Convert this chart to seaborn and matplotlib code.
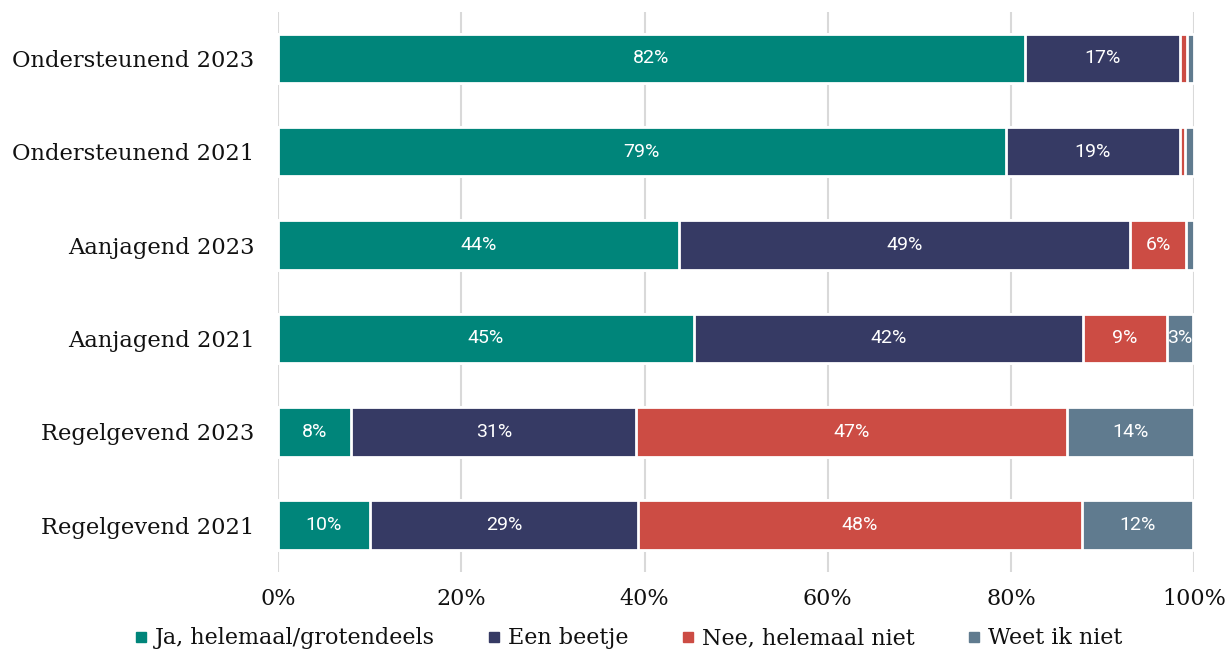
import matplotlib
matplotlib.use("Agg")
from matplotlib import pyplot as plt
from matplotlib.lines import Line2D
import seaborn as sns
import numpy as np
import pandas as pd

categories = ["Ondersteunend 2023", "Ondersteunend 2021", "Aanjagend 2023",
              "Aanjagend 2021", "Regelgevend 2023", "Regelgevend 2021"]
series = ["Ja, helemaal/grotendeels", "Een beetje", "Nee, helemaal niet", "Weet ik niet"]
ja = [81.5, 79.4, 43.8, 45.4, 8.0, 10.0]
beetje = [16.9, 19.0, 49.2, 42.4, 31.1, 29.3]
nee = [0.8, 0.6, 6.1, 9.2, 47.0, 48.4]
weet = [0.8, 1.0, 0.9, 2.9, 13.9, 12.2]
colors = ["#00857a", "#363a64", "#cc4c44", "#607b8f"]

sns.set_style("white")
plt.rcParams['font.family'] = ['DejaVu Serif']
plt.rcParams['text.color'] = '#111111'
plt.rcParams['xtick.color'] = '#111111'
plt.rcParams['ytick.color'] = '#111111'

df = pd.DataFrame({"cat": categories, series[0]: ja, series[1]: beetje,
                   series[2]: nee, series[3]: weet})
cum = df[series].cumsum(axis=1)

fig = plt.figure(figsize=(12.3, 6.52), dpi=100)
ax = fig.add_axes([0.226, 0.123, 0.745, 0.859])

for i in range(len(series) - 1, -1, -1):
    sns.barplot(x=cum[series[i]], y=df["cat"], orient="h", color=colors[i],
                width=0.53, edgecolor="white", linewidth=2, saturation=1, ax=ax)

# labels in the middle of each segment
for i, s in enumerate(series):
    left = cum[s] - df[s]
    for j, v in enumerate(df[s]):
        if v >= 2:
            ax.text(left[j] + v / 2, j, f"{v:.0f}%", ha="center", va="center",
                    color="white", fontsize=14, family="Roboto")

ax.set_xlim(0, 100)
ax.set_ylim(5.5, -0.5)
ax.set_xticks(np.arange(0, 101, 20))
ax.set_xticklabels([f"{t}%" for t in range(0, 101, 20)], fontsize=16)
ax.tick_params(axis="y", labelsize=16.3, length=0, pad=17)
ax.tick_params(axis="x", length=0, pad=12)
ax.set_xlabel("")
ax.set_ylabel("")
ax.xaxis.grid(True, color="#d9d9d9", linewidth=1.5)
ax.set_axisbelow(True)
for sp in ax.spines.values():
    sp.set_visible(False)

handles = [Line2D([0], [0], marker="s", linestyle="", markersize=7,
                  markerfacecolor=c, markeredgecolor=c) for c in colors]
fig.legend(handles, series, loc="center", bbox_to_anchor=(0.509, 0.021), ncol=4,
           frameon=False, fontsize=16, handletextpad=0.1, columnspacing=2.2,
           handlelength=1)

fig.savefig("out.png", dpi=100)
